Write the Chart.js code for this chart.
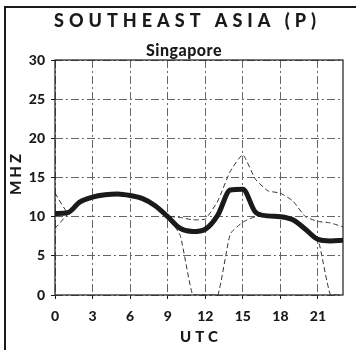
<!DOCTYPE html>
<html>
<head>
<meta charset="utf-8">
<script src="https://cdn.jsdelivr.net/npm/chart.js@4"></script>
<style>
  html, body { margin: 0; padding: 0; background: #fff; }
  #wrap { width: 360px; height: 350px; }
</style>
</head>
<body>
<div id="wrap"><canvas id="chart" width="360" height="350"></canvas></div>
<script>
const title = 'SOUTHEAST ASIA (P)';
const subtitle = 'Singapore';
const xTitle = 'UTC';
const yTitle = 'MHZ';

// hours UTC
const hours = [0, 1, 2, 3, 4, 5, 6, 7, 8, 9, 10, 11, 12, 13, 14, 15, 16, 17, 18, 19, 20, 21, 22, 23];
// median (thick line)
const median = [10.4, 10.5, 11.9, 12.5, 12.8, 12.9, 12.7, 12.3, 11.4, 10.0, 8.5, 8.1, 8.4, 10.2, 13.4, 13.5, 10.6, 10.1, 10.0, 9.6, 8.4, 7.1, 6.9, 7.0];
// upper dashed
const upper = [13.0, 10.6, 11.9, 12.5, 12.8, 12.9, 12.7, 12.3, 11.4, 10.1, 9.9, 9.6, 9.7, 12.0, 15.8, 17.9, 14.8, 13.3, 13.0, 12.0, 10.0, 9.4, 9.2, 8.7];
// lower dashed
const lower = [8.5, 10.3, 11.9, 12.5, 12.8, 12.9, 12.7, 12.3, 11.4, 10.0, 7.6, 0, 0, 0, 7.8, 9.3, 10.0, 10.1, 10.0, 9.6, 8.4, 7.1, 0, 0];

const xTicks = [0, 3, 6, 9, 12, 15, 18, 21];
const yTicks = [0, 5, 10, 15, 20, 25, 30];

const ink = '#1a1a1a';
const gridDash = [8, 3, 2, 3];
const FONT = 'Lato, "Open Sans", sans-serif';

function pts(arr) {
  return hours.map((h, i) => ({ x: h, y: arr[i] }));
}

const decor = {
  id: 'decor',
  afterDraw(chart) {
    const { ctx, chartArea: a } = chart;
    ctx.save();
    // plot frame
    ctx.strokeStyle = ink;
    ctx.lineWidth = 1.2;
    ctx.setLineDash([]);
    ctx.strokeRect(a.left, a.top, a.right - a.left, a.bottom - a.top);
    // page frame
    ctx.lineWidth = 2;
    ctx.beginPath();
    ctx.moveTo(5, 350);
    ctx.lineTo(5, 7);
    ctx.lineTo(356, 7);
    ctx.stroke();

    ctx.fillStyle = ink;
    ctx.textAlign = 'center';
    ctx.textBaseline = 'middle';

    ctx.font = '900 18px ' + FONT;
    ctx.letterSpacing = '5px';
    ctx.fillText(title, 185 + 2.5, 21);

    ctx.font = '900 16px ' + FONT;
    ctx.letterSpacing = '0.5px';
    ctx.fillText(subtitle, 184, 51);

    ctx.font = '900 15px ' + FONT;
    ctx.letterSpacing = '4px';
    ctx.fillText(xTitle, (a.left + a.right) / 2 + 2, 337);

    ctx.translate(16, (a.top + a.bottom) / 2 - 3);
    ctx.rotate(-Math.PI / 2);
    ctx.letterSpacing = '3px';
    ctx.fillText(yTitle, 1.5, 0);
    ctx.restore();
  }
};

new Chart(document.getElementById('chart'), {
  type: 'line',
  data: {
    datasets: [
      {
        data: pts(median),
        borderColor: ink,
        borderWidth: 5,
        cubicInterpolationMode: 'monotone',
        pointRadius: 0
      },
      {
        data: pts(upper),
        borderColor: '#333',
        borderWidth: 1,
        borderDash: [5, 3],
        tension: 0.15,
        pointRadius: 0
      },
      {
        data: pts(lower),
        borderColor: '#333',
        borderWidth: 1,
        borderDash: [5, 3],
        tension: 0.15,
        pointRadius: 0
      }
    ]
  },
  options: {
    responsive: false,
    animation: false,
    layout: { padding: { top: 60, right: 17, left: 0, bottom: 0 } },
    plugins: {
      legend: { display: false },
      tooltip: { enabled: false }
    },
    scales: {
      x: {
        type: 'linear',
        min: 0,
        max: 23,
        afterFit(scale) { scale.height = 55; },
        afterBuildTicks(scale) { scale.ticks = xTicks.map(v => ({ value: v })); },
        ticks: {
          color: ink,
          padding: 9,
          font: { family: FONT, size: 14, weight: '900' }
        },
        grid: {
          color: '#666',
          lineWidth: 1,
          borderDash: gridDash,
          tickLength: 4,
          tickColor: ink,
          tickBorderDash: []
        },
        border: { display: false, dash: gridDash }
      },
      y: {
        min: 0,
        max: 30,
        afterFit(scale) { scale.width = 55; },
        afterBuildTicks(scale) { scale.ticks = yTicks.map(v => ({ value: v })); },
        ticks: {
          color: ink,
          padding: 6,
          font: { family: FONT, size: 14, weight: '900' }
        },
        grid: {
          color: '#666',
          lineWidth: 1,
          borderDash: gridDash,
          tickLength: 4,
          tickColor: ink,
          tickBorderDash: []
        },
        border: { display: false, dash: gridDash }
      }
    }
  },
  plugins: [decor]
});
</script>
</body>
</html>
